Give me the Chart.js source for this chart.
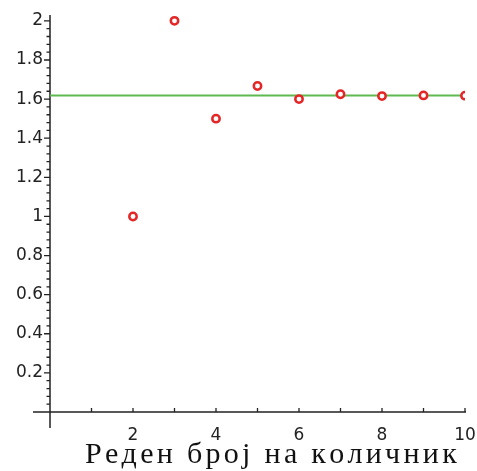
<!DOCTYPE html>
<html>
<head>
<meta charset="utf-8">
<script src="https://cdn.jsdelivr.net/npm/chart.js@4/dist/chart.umd.min.js"></script>
<style>
html,body{margin:0;padding:0;background:#fff;overflow:hidden;}
#wrap{width:477px;height:471px;position:relative;}
</style>
</head>
<body>
<div id="wrap"><canvas id="c"></canvas></div>
<script>
// Data
const quotientIndex = [2, 3, 4, 5, 6, 7, 8, 9, 10];
const quotientValue = [1, 2, 1.5, 1.6667, 1.6, 1.625, 1.6154, 1.6190, 1.6176];
const goldenRatio = 1.618;
const xRange = [0, 10];
const yRange = [0, 2.03];
const xTickValues = [1, 2, 3, 4, 5, 6, 7, 8, 9, 10];
const xTickLabels = ['2', '4', '6', '8', '10'];
const yTickLabels = ['0.2', '0.4', '0.6', '0.8', '1', '1.2', '1.4', '1.6', '1.8', '2'];
const yMinorStep = 0.04;
const xTitle = 'Реден број на количник';

function drawSpaced(ctx, text, x, y, spacing) {
  let cx = x;
  for (const ch of text) {
    ctx.fillText(ch, cx, y);
    cx += ctx.measureText(ch).width + spacing;
  }
}

const axisPlugin = {
  id: 'maple-axes',
  beforeDatasetsDraw(chart) {
    const ctx = chart.ctx, xs = chart.scales.x, ys = chart.scales.y;
    const x0 = xs.getPixelForValue(0), y0 = ys.getPixelForValue(0);
    ctx.save();
    ctx.strokeStyle = '#222';
    ctx.lineWidth = 1.5;
    ctx.beginPath();
    ctx.moveTo(x0 - 17, y0); ctx.lineTo(xs.getPixelForValue(xRange[1]) + 1, y0);
    ctx.moveTo(x0, ys.getPixelForValue(yRange[1])); ctx.lineTo(x0, y0 + 16);
    ctx.stroke();
    ctx.lineWidth = 1.3;
    ctx.beginPath();
    xTickValues.forEach(v => {
      const px = xs.getPixelForValue(v);
      ctx.moveTo(px, y0); ctx.lineTo(px, y0 - 4);
    });
    const nMinor = Math.round(2 / yMinorStep);
    for (let i = 1; i <= nMinor; i++) {
      const py = ys.getPixelForValue(i * yMinorStep);
      const len = (i % 5 === 0) ? 6 : 3.5;
      ctx.moveTo(x0 - len, py); ctx.lineTo(x0, py);
    }
    ctx.stroke();
    ctx.restore();
  },
  afterDraw(chart) {
    const ctx = chart.ctx;
    ctx.save();
    ctx.fillStyle = '#111';
    ctx.font = '30px "Liberation Serif", "DejaVu Serif", serif';
    ctx.textAlign = 'left';
    ctx.textBaseline = 'alphabetic';
    drawSpaced(ctx, xTitle, 85, 463, 3.3);
    ctx.restore();
  }
};

function fmt(v) { return String(Number(v.toFixed(1))); }

new Chart(document.getElementById('c'), {
  type: 'scatter',
  data: {
    datasets: [
      {
        label: 'количник',
        data: quotientIndex.map((x, i) => ({ x: x, y: quotientValue[i] })),
        showLine: false,
        pointStyle: 'circle',
        pointRadius: 3.7,
        pointBorderWidth: 2.5,
        borderColor: 'rgb(228,38,38)',
        backgroundColor: '#fff',
        order: 0
      },
      {
        type: 'line',
        label: 'φ',
        data: [{ x: xRange[0], y: goldenRatio }, { x: xRange[1], y: goldenRatio }],
        borderColor: 'rgb(95,185,80)',
        borderWidth: 2,
        pointRadius: 0,
        order: 1
      }
    ]
  },
  options: {
    responsive: true,
    maintainAspectRatio: false,
    animation: false,
    devicePixelRatio: 1,
    layout: { padding: { top: 15, right: 12, left: 0, bottom: 0 } },
    plugins: { legend: { display: false }, tooltip: { enabled: false } },
    scales: {
      x: {
        type: 'linear', min: xRange[0], max: xRange[1],
        grid: { display: false, drawTicks: false },
        border: { display: false },
        ticks: {
          stepSize: 1, autoSkip: false, maxRotation: 0, padding: 13,
          color: '#222', font: { family: '"DejaVu Sans", sans-serif', size: 17 },
          callback: (v) => { const s = fmt(v); return xTickLabels.includes(s) ? s : ''; }
        },
        afterFit: (s) => { s.height = 59; s.paddingLeft = 0; s.paddingRight = 0; }
      },
      y: {
        type: 'linear', min: yRange[0], max: yRange[1],
        grid: { display: false, drawTicks: false },
        border: { display: false },
        ticks: {
          stepSize: 0.2, autoSkip: false, padding: 7, includeBounds: false,
          color: '#222', font: { family: '"DejaVu Sans", sans-serif', size: 17 },
          callback: (v) => { const s = fmt(v); return (yTickLabels.includes(s) && Math.abs(v - Number(s)) < 1e-6) ? s : ''; }
        },
        afterFit: (s) => { s.width = 50; s.paddingTop = 0; s.paddingBottom = 0; }
      }
    }
  },
  plugins: [axisPlugin]
});
</script>
</body>
</html>
